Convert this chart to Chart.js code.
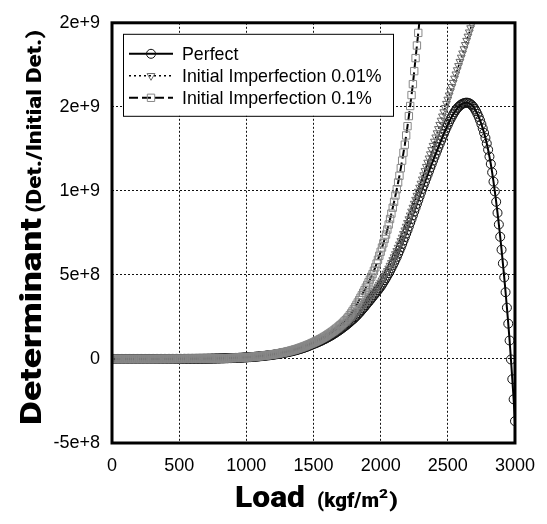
<!DOCTYPE html>
<html>
<head>
<meta charset="utf-8">
<script src="https://cdn.jsdelivr.net/npm/chart.js@4.4.1/dist/chart.umd.min.js"></script>
<style>
  html, body { margin: 0; padding: 0; background: #fff; }
  #wrap { width: 547px; height: 524px; position: relative; }
</style>
</head>
<body>
<div id="wrap"><canvas id="plot"></canvas></div>
<script>
// load steps (kgf/m2)
const loads = [
  0, 10, 20, 30, 40, 50, 60, 70, 80, 90,
  100, 110, 120, 130, 140, 150, 160, 170, 180, 190,
  200, 210, 220, 230, 240, 250, 260, 270, 280, 290,
  300, 310, 320, 330, 340, 350, 360, 370, 380, 390,
  400, 410, 420, 430, 440, 450, 460, 470, 480, 490,
  500, 510, 520, 530, 540, 550, 560, 570, 580, 590,
  600, 610, 620, 630, 640, 650, 660, 670, 680, 690,
  700, 710, 720, 730, 740, 750, 760, 770, 780, 790,
  800, 810, 820, 830, 840, 850, 860, 870, 880, 890,
  900, 910, 920, 930, 940, 950, 960, 970, 980, 990,
  1000, 1010, 1020, 1030, 1040, 1050, 1060, 1070, 1080, 1090,
  1100, 1110, 1120, 1130, 1140, 1150, 1160, 1170, 1180, 1190,
  1200, 1210, 1220, 1230, 1240, 1250, 1260, 1270, 1280, 1290,
  1300, 1310, 1320, 1330, 1340, 1350, 1360, 1370, 1380, 1390,
  1400, 1410, 1420, 1430, 1440, 1450, 1460, 1470, 1480, 1490,
  1500, 1510, 1520, 1530, 1540, 1550, 1560, 1570, 1580, 1590,
  1600, 1610, 1620, 1630, 1640, 1650, 1660, 1670, 1680, 1690,
  1700, 1710, 1720, 1730, 1740, 1750, 1760, 1770, 1780, 1790,
  1800, 1810, 1820, 1830, 1840, 1850, 1860, 1870, 1880, 1890,
  1900, 1910, 1920, 1930, 1940, 1950, 1960, 1970, 1980, 1990,
  2000, 2010, 2020, 2030, 2040, 2050, 2060, 2070, 2080, 2090,
  2100, 2110, 2120, 2130, 2140, 2150, 2160, 2170, 2180, 2190,
  2200, 2210, 2220, 2230, 2240, 2250, 2260, 2270, 2280, 2290,
  2300, 2310, 2320, 2330, 2340, 2350, 2360, 2370, 2380, 2390,
  2400, 2410, 2420, 2430, 2440, 2450, 2460, 2470, 2480, 2490,
  2500, 2510, 2520, 2530, 2540, 2550, 2560, 2570, 2580, 2590,
  2600, 2610, 2620, 2630, 2640, 2650, 2660, 2670, 2680, 2690,
  2700, 2710, 2720, 2730, 2740, 2750, 2760, 2770, 2780, 2790,
  2800, 2810, 2820, 2830, 2840, 2850, 2860, 2870, 2880, 2890,
  2900, 2910, 2920, 2930, 2940, 2950, 2960, 2970, 2980, 2990,
  3000
];

// determinant (Det./Initial Det.)
const perfect = [
  0, 0, 0, 0, 0, 0, 0, 0, 0, 0,
  0, 0, 0, 0, 0, 0, 0, 0, 0, 0,
  0, 0, 0, 0, 0, 0, 0, 0, 0, 0,
  0, 0.0005e8, 0.001e8, 0.001e8, 0.001e8, 0.001e8, 0.001e8, 0.0015e8, 0.002e8, 0.002e8,
  0.002e8, 0.002e8, 0.002e8, 0.0025e8, 0.003e8, 0.003e8, 0.003e8, 0.0035e8, 0.004e8, 0.004e8,
  0.004e8, 0.0045e8, 0.005e8, 0.0055e8, 0.006e8, 0.0065e8, 0.007e8, 0.0075e8, 0.008e8, 0.0085e8,
  0.009e8, 0.0095e8, 0.010e8, 0.011e8, 0.012e8, 0.0125e8, 0.013e8, 0.014e8, 0.015e8, 0.016e8,
  0.017e8, 0.018e8, 0.019e8, 0.0205e8, 0.022e8, 0.0235e8, 0.025e8, 0.0265e8, 0.028e8, 0.0295e8,
  0.031e8, 0.033e8, 0.035e8, 0.037e8, 0.039e8, 0.0415e8, 0.044e8, 0.0465e8, 0.049e8, 0.052e8,
  0.055e8, 0.058e8, 0.061e8, 0.0645e8, 0.068e8, 0.072e8, 0.076e8, 0.0805e8, 0.085e8, 0.0895e8,
  0.094e8, 0.099e8, 0.104e8, 0.110e8, 0.116e8, 0.122e8, 0.128e8, 0.135e8, 0.142e8, 0.1495e8,
  0.157e8, 0.165e8, 0.173e8, 0.182e8, 0.191e8, 0.2005e8, 0.21e8, 0.22e8, 0.23e8, 0.24e8,
  0.25e8, 0.2625e8, 0.275e8, 0.2875e8, 0.30e8, 0.315e8, 0.33e8, 0.345e8, 0.36e8, 0.375e8,
  0.39e8, 0.4075e8, 0.425e8, 0.4425e8, 0.46e8, 0.48e8, 0.50e8, 0.5225e8, 0.545e8, 0.5675e8,
  0.59e8, 0.615e8, 0.64e8, 0.6675e8, 0.695e8, 0.725e8, 0.755e8, 0.7875e8, 0.82e8, 0.855e8,
  0.89e8, 0.92e8, 0.95e8, 0.985e8, 1.02e8, 1.055e8, 1.09e8, 1.13e8, 1.17e8, 1.21e8,
  1.25e8, 1.295e8, 1.34e8, 1.385e8, 1.43e8, 1.48e8, 1.53e8, 1.585e8, 1.64e8, 1.695e8,
  1.75e8, 1.81e8, 1.87e8, 1.93e8, 1.99e8, 2.055e8, 2.12e8, 2.19e8, 2.26e8, 2.33e8,
  2.40e8, 2.48e8, 2.56e8, 2.645e8, 2.73e8, 2.82e8, 2.91e8, 3.005e8, 3.10e8, 3.20e8,
  3.30e8, 3.395e8, 3.49e8, 3.59e8, 3.69e8, 3.79e8, 3.89e8, 3.99e8, 4.09e8, 4.195e8,
  4.30e8, 4.425e8, 4.55e8, 4.685e8, 4.82e8, 4.96e8, 5.10e8, 5.255e8, 5.41e8, 5.57e8,
  5.73e8, 5.905e8, 6.08e8, 6.265e8, 6.45e8, 6.645e8, 6.84e8, 7.045e8, 7.25e8, 7.46e8,
  7.67e8, 7.89e8, 8.11e8, 8.33e8, 8.55e8, 8.775e8, 9.00e8, 9.225e8, 9.45e8, 9.675e8,
  9.90e8, 10.115e8, 10.33e8, 10.545e8, 10.76e8, 10.97e8, 11.18e8, 11.39e8, 11.60e8, 11.805e8,
  12.01e8, 12.21e8, 12.41e8, 12.61e8, 12.81e8, 13.005e8, 13.20e8, 13.39e8, 13.58e8, 13.76e8,
  13.94e8, 14.11e8, 14.27e8, 14.42e8, 14.56e8, 14.69e8, 14.81e8, 14.91e8, 15.00e8, 15.075e8,
  15.14e8, 15.185e8, 15.22e8, 15.24e8, 15.25e8, 15.24e8, 15.21e8, 15.16e8, 15.09e8, 15.00e8,
  14.88e8, 14.74e8, 14.58e8, 14.40e8, 14.20e8, 13.97e8, 13.72e8, 13.45e8, 13.15e8, 12.82e8,
  12.45e8, 12.04e8, 11.60e8, 11.10e8, 10.55e8, 9.97e8, 9.35e8, 8.69e8, 8.00e8, 7.27e8,
  6.50e8, 5.69e8, 4.85e8, 3.97e8, 3.05e8, 2.10e8, 1.10e8, -0.03e8, -1.20e8, -2.40e8,
  -3.70e8
];

const imperfect001 = [
  0, 0, 0, 0, 0, 0, 0, 0, 0, 0,
  0, 0, 0, 0, 0, 0, 0, 0, 0, 0,
  0, 0, 0, 0, 0, 0, 0, 0, 0, 0,
  0, 0.0005e8, 0.001e8, 0.001e8, 0.001e8, 0.001e8, 0.001e8, 0.0015e8, 0.002e8, 0.002e8,
  0.002e8, 0.002e8, 0.002e8, 0.0025e8, 0.003e8, 0.003e8, 0.003e8, 0.0035e8, 0.004e8, 0.004e8,
  0.004e8, 0.0045e8, 0.005e8, 0.0055e8, 0.006e8, 0.0065e8, 0.007e8, 0.0075e8, 0.008e8, 0.0085e8,
  0.009e8, 0.0095e8, 0.010e8, 0.011e8, 0.012e8, 0.0125e8, 0.013e8, 0.014e8, 0.015e8, 0.016e8,
  0.017e8, 0.018e8, 0.019e8, 0.0205e8, 0.022e8, 0.0235e8, 0.025e8, 0.0265e8, 0.028e8, 0.030e8,
  0.032e8, 0.034e8, 0.036e8, 0.038e8, 0.040e8, 0.0425e8, 0.045e8, 0.0475e8, 0.050e8, 0.053e8,
  0.056e8, 0.059e8, 0.062e8, 0.0655e8, 0.069e8, 0.0735e8, 0.078e8, 0.0825e8, 0.087e8, 0.0915e8,
  0.096e8, 0.1015e8, 0.107e8, 0.113e8, 0.119e8, 0.125e8, 0.131e8, 0.1385e8, 0.146e8, 0.1535e8,
  0.161e8, 0.1695e8, 0.178e8, 0.187e8, 0.196e8, 0.206e8, 0.216e8, 0.2265e8, 0.237e8, 0.2475e8,
  0.258e8, 0.271e8, 0.284e8, 0.297e8, 0.31e8, 0.325e8, 0.34e8, 0.356e8, 0.372e8, 0.388e8,
  0.404e8, 0.422e8, 0.44e8, 0.4585e8, 0.477e8, 0.4975e8, 0.518e8, 0.541e8, 0.564e8, 0.5875e8,
  0.611e8, 0.637e8, 0.663e8, 0.6915e8, 0.72e8, 0.751e8, 0.782e8, 0.816e8, 0.85e8, 0.8875e8,
  0.925e8, 0.9575e8, 0.99e8, 1.025e8, 1.06e8, 1.10e8, 1.14e8, 1.18e8, 1.22e8, 1.265e8,
  1.31e8, 1.355e8, 1.40e8, 1.45e8, 1.50e8, 1.555e8, 1.61e8, 1.665e8, 1.72e8, 1.78e8,
  1.84e8, 1.905e8, 1.97e8, 2.035e8, 2.10e8, 2.17e8, 2.24e8, 2.315e8, 2.39e8, 2.47e8,
  2.55e8, 2.635e8, 2.72e8, 2.81e8, 2.90e8, 2.99e8, 3.08e8, 3.17e8, 3.26e8, 3.355e8,
  3.45e8, 3.55e8, 3.65e8, 3.755e8, 3.86e8, 3.97e8, 4.08e8, 4.195e8, 4.31e8, 4.43e8,
  4.55e8, 4.68e8, 4.81e8, 4.95e8, 5.09e8, 5.24e8, 5.39e8, 5.555e8, 5.72e8, 5.89e8,
  6.06e8, 6.245e8, 6.43e8, 6.625e8, 6.82e8, 7.025e8, 7.23e8, 7.445e8, 7.66e8, 7.88e8,
  8.10e8, 8.325e8, 8.55e8, 8.78e8, 9.01e8, 9.245e8, 9.48e8, 9.72e8, 9.96e8, 10.20e8,
  10.44e8, 10.69e8, 10.94e8, 11.19e8, 11.44e8, 11.69e8, 11.94e8, 12.19e8, 12.44e8, 12.69e8,
  12.94e8, 13.19e8, 13.44e8, 13.69e8, 13.94e8, 14.19e8, 14.44e8, 14.69e8, 14.94e8, 15.19e8,
  15.44e8, 15.69e8, 15.94e8, 16.19e8, 16.44e8, 16.69e8, 16.94e8, 17.19e8, 17.44e8, 17.69e8,
  17.94e8, 18.19e8, 18.44e8, 18.69e8, 18.94e8, 19.19e8, 19.44e8, 19.69e8, 19.94e8, 20.19e8,
  20.44e8
];

const imperfect01 = [
  0, 0, 0, 0, 0, 0, 0, 0, 0, 0,
  0, 0, 0, 0, 0, 0, 0, 0, 0, 0,
  0, 0, 0, 0, 0, 0, 0, 0, 0, 0,
  0, 0.0005e8, 0.001e8, 0.001e8, 0.001e8, 0.0015e8, 0.002e8, 0.002e8, 0.002e8, 0.002e8,
  0.002e8, 0.0025e8, 0.003e8, 0.003e8, 0.003e8, 0.0035e8, 0.004e8, 0.004e8, 0.004e8, 0.0045e8,
  0.005e8, 0.0055e8, 0.006e8, 0.0065e8, 0.007e8, 0.0075e8, 0.008e8, 0.0085e8, 0.009e8, 0.0095e8,
  0.010e8, 0.0105e8, 0.011e8, 0.012e8, 0.013e8, 0.014e8, 0.015e8, 0.016e8, 0.017e8, 0.018e8,
  0.019e8, 0.020e8, 0.021e8, 0.0225e8, 0.024e8, 0.0255e8, 0.027e8, 0.029e8, 0.031e8, 0.033e8,
  0.035e8, 0.037e8, 0.039e8, 0.0415e8, 0.044e8, 0.0465e8, 0.049e8, 0.052e8, 0.055e8, 0.058e8,
  0.061e8, 0.0645e8, 0.068e8, 0.072e8, 0.076e8, 0.080e8, 0.084e8, 0.0885e8, 0.093e8, 0.098e8,
  0.103e8, 0.1085e8, 0.114e8, 0.120e8, 0.126e8, 0.1325e8, 0.139e8, 0.1465e8, 0.154e8, 0.162e8,
  0.170e8, 0.179e8, 0.188e8, 0.1975e8, 0.207e8, 0.2175e8, 0.228e8, 0.2395e8, 0.251e8, 0.2635e8,
  0.276e8, 0.289e8, 0.302e8, 0.3165e8, 0.331e8, 0.3465e8, 0.362e8, 0.379e8, 0.396e8, 0.414e8,
  0.432e8, 0.4515e8, 0.471e8, 0.492e8, 0.513e8, 0.5355e8, 0.558e8, 0.5825e8, 0.607e8, 0.6335e8,
  0.66e8, 0.688e8, 0.716e8, 0.746e8, 0.776e8, 0.808e8, 0.84e8, 0.875e8, 0.91e8, 0.945e8,
  0.98e8, 1.0175e8, 1.055e8, 1.095e8, 1.135e8, 1.1775e8, 1.22e8, 1.265e8, 1.31e8, 1.36e8,
  1.41e8, 1.4625e8, 1.515e8, 1.57e8, 1.625e8, 1.685e8, 1.745e8, 1.8075e8, 1.87e8, 1.9375e8,
  2.005e8, 2.0775e8, 2.15e8, 2.23e8, 2.31e8, 2.40e8, 2.49e8, 2.60e8, 2.71e8, 2.83e8,
  2.95e8, 3.085e8, 3.22e8, 3.36e8, 3.50e8, 3.645e8, 3.79e8, 3.94e8, 4.09e8, 4.245e8,
  4.40e8, 4.56e8, 4.72e8, 4.885e8, 5.05e8, 5.25e8, 5.45e8, 5.675e8, 5.90e8, 6.14e8,
  6.38e8, 6.63e8, 6.88e8, 7.14e8, 7.40e8, 7.70e8, 8.00e8, 8.325e8, 8.65e8, 9.00e8,
  9.35e8, 9.725e8, 10.10e8, 10.50e8, 10.90e8, 11.35e8, 11.80e8, 12.275e8, 12.75e8, 13.30e8,
  13.85e8, 14.45e8, 15.05e8, 15.70e8, 16.35e8, 17.125e8, 17.90e8, 18.65e8, 19.40e8, 20.175e8,
  20.95e8
];

const seriesNames = ['Perfect', 'Initial Imperfection 0.01%', 'Initial Imperfection 0.1%'];

const xTickValues = [0, 500, 1000, 1500, 2000, 2500, 3000];
const xTickLabels = ['0', '500', '1000', '1500', '2000', '2500', '3000'];
const yTickValues = [-5e8, 0, 5e8, 1e9, 1.5e9, 2e9];
const yTickLabels = ['-5e+8', '0', '5e+8', '1e+9', '2e+9', '2e+9'];

const xTitle = ['Load', '(kgf/m', '2', ')'];
const yTitle = ['Determinant', '(Det./Initial Det.)'];

function points(values) {
  return values.map(function(v, i) {
    return { x: loads[i], y: v };
  });
}

function labelFor(values, labels, v) {
  for (let i = 0; i < values.length; i++) {
    if (Math.abs(values[i] - v) < 1e-6 * (Math.abs(v) + 1)) return labels[i];
  }
  return '';
}

const styles = [
  { color: '#000', point: 'circle', radius: 4.5, pointColor: '#111', dash: [], width: 2 },
  { color: '#000', point: 'triangle', radius: 4.5, pointColor: '#666', dash: [2, 3], width: 1.5 },
  { color: '#000', point: 'rect', radius: 5.2, pointColor: '#888', dash: [9, 4], width: 2 }
];

function drawMarker(ctx, st, x, y) {
  ctx.save();
  ctx.setLineDash([]);
  ctx.lineWidth = 1;
  ctx.strokeStyle = st.pointColor;
  ctx.beginPath();
  if (st.point === 'circle') {
    ctx.arc(x, y, st.radius, 0, Math.PI * 2);
  } else if (st.point === 'triangle') {
    const r = st.radius;
    ctx.moveTo(x - r * 0.87, y - r * 0.5);
    ctx.lineTo(x + r * 0.87, y - r * 0.5);
    ctx.lineTo(x, y + r);
    ctx.closePath();
  } else {
    const s = st.radius * Math.SQRT1_2;
    ctx.rect(x - s, y - s, 2 * s, 2 * s);
  }
  ctx.stroke();
  ctx.restore();
}

// draws text squeezed or stretched to a given width
function fitText(ctx, text, font, x, y, width) {
  ctx.font = font;
  const w = ctx.measureText(text).width;
  ctx.save();
  ctx.translate(x, y);
  ctx.scale(width / w, 1);
  ctx.fillText(text, 0, 0);
  ctx.restore();
}

const framePlugin = {
  id: 'frame',
  afterDatasetsDraw: (chart) => {
    const ctx = chart.ctx;
    const a = chart.chartArea;
    ctx.save();
    ctx.strokeStyle = '#000';
    ctx.lineWidth = 3;
    ctx.strokeRect(a.left, a.top, a.right - a.left, a.bottom - a.top);
    ctx.restore();
  }
};

const legendPlugin = {
  id: 'boxLegend',
  afterDraw: (chart) => {
    const ctx = chart.ctx;
    const a = chart.chartArea;
    const bx = a.left + 11, by = a.top + 11, bw = 270, bh = 82;
    ctx.save();
    ctx.fillStyle = '#fff';
    ctx.fillRect(bx, by, bw, bh);
    ctx.strokeStyle = '#000';
    ctx.lineWidth = 1;
    ctx.strokeRect(bx + 0.5, by + 0.5, bw, bh);
    ctx.font = '17.8px "Liberation Sans", Arial, sans-serif';
    ctx.textBaseline = 'middle';
    for (let i = 0; i < seriesNames.length; i++) {
      const st = styles[i];
      const y = by + 20 + i * 22;
      ctx.strokeStyle = st.color;
      ctx.lineWidth = st.width;
      ctx.setLineDash(st.dash);
      ctx.beginPath();
      ctx.moveTo(bx + 6, y);
      ctx.lineTo(bx + 50, y);
      ctx.stroke();
      ctx.setLineDash([]);
      drawMarker(ctx, st, bx + 28, y);
      ctx.fillStyle = '#000';
      ctx.fillText(seriesNames[i], bx + 59, y + 1);
    }
    ctx.restore();
  }
};

const titlePlugin = {
  id: 'axisTitles',
  afterDraw: (chart) => {
    const ctx = chart.ctx;
    const family = '"Arial Black", Roboto, "DejaVu Sans", sans-serif';
    const heavy = '900 29px ' + family;
    const small = '900 20px ' + family;
    const sup = '900 13px ' + family;
    ctx.save();
    ctx.fillStyle = '#000';
    ctx.textBaseline = 'alphabetic';
    ctx.textAlign = 'left';

    // x title
    const base = 507;
    fitText(ctx, xTitle[0], heavy, 235, base, 70);
    fitText(ctx, xTitle[1], small, 317, base, 62);
    fitText(ctx, xTitle[2], sup, 379, base - 9, 9);
    fitText(ctx, xTitle[3], small, 389, base, 9);

    // y title (rotated)
    ctx.translate(41, 0);
    ctx.rotate(-Math.PI / 2);
    fitText(ctx, yTitle[0], heavy, -425, 0, 207);
    fitText(ctx, yTitle[1], small, -213, 0, 183);
    ctx.restore();
  }
};

const allSeries = [perfect, imperfect001, imperfect01];
const datasets = allSeries.map(function(values, i) {
  const st = styles[i];
  return {
    label: seriesNames[i],
    data: points(values),
    borderColor: st.color,
    borderWidth: st.width,
    borderDash: st.dash,
    pointStyle: st.point,
    pointRadius: st.radius,
    pointRotation: st.point === 'triangle' ? 180 : 0,
    pointBorderColor: st.pointColor,
    pointBackgroundColor: 'rgba(255,255,255,0)',
    pointBorderWidth: 1,
    tension: 0,
    fill: false,
    order: 3 - i
  };
});

const gridOpts = { color: '#111', lineWidth: 1, drawTicks: false };
const tickFont = { family: '"Liberation Sans", Arial, sans-serif', size: 18 };

const config = {
  type: 'line',
  data: { datasets: datasets },
  plugins: [framePlugin, legendPlugin, titlePlugin],
  options: {
    animation: false,
    responsive: true,
    maintainAspectRatio: false,
    devicePixelRatio: 1,
    layout: { padding: { left: 0, right: 27, top: 21, bottom: 0 } },
    plugins: {
      legend: { display: false },
      tooltip: { enabled: false }
    },
    scales: {
      x: {
        type: 'linear',
        min: 0,
        max: 3000,
        grid: gridOpts,
        border: { display: false, dash: [2, 2] },
        afterFit: (s) => { s.height = 81; },
        afterBuildTicks: (s) => { s.ticks = xTickValues.map(v => ({ value: v })); },
        ticks: {
          color: '#000',
          font: tickFont,
          padding: 12,
          maxRotation: 0,
          callback: (v) => labelFor(xTickValues, xTickLabels, v)
        }
      },
      y: {
        type: 'linear',
        min: -5e8,
        max: 2e9,
        grid: gridOpts,
        border: { display: false, dash: [2, 2] },
        afterFit: (s) => { s.width = 112; },
        afterBuildTicks: (s) => { s.ticks = yTickValues.map(v => ({ value: v })); },
        ticks: {
          color: '#000',
          font: tickFont,
          padding: 12,
          callback: (v) => labelFor(yTickValues, yTickLabels, v)
        }
      }
    }
  }
};

const canvas = document.getElementById('plot');
const chart = new Chart(canvas.getContext('2d'), config);
</script>
</body>
</html>
